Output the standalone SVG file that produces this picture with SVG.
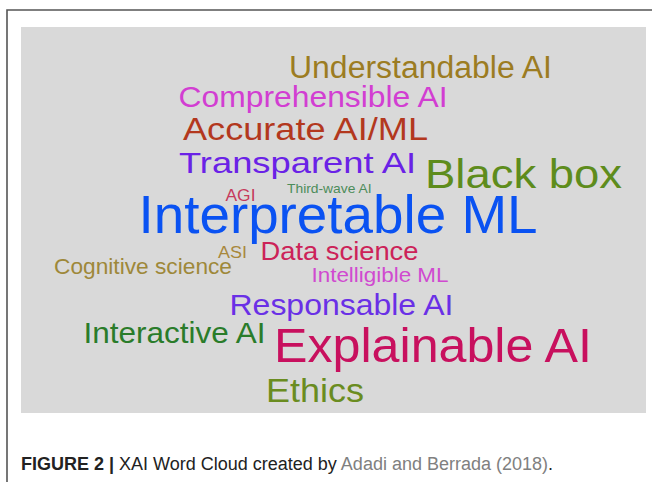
<svg xmlns="http://www.w3.org/2000/svg" width="652" height="482" viewBox="0 0 652 482">
<style>
.w{font-family:"Liberation Sans",Arial,sans-serif;}
.cap{font-family:"Liberation Sans",Arial,sans-serif;font-size:18px;fill:#222;}
.frame{stroke:#555;stroke-width:1.6;fill:none;}
</style>
<rect x="0" y="0" width="652" height="482" fill="#fff"/>
<path class="frame" d="M7,482 V10 H652"/>
<rect id="cloud-bg" x="21" y="27" width="625" height="386" fill="#d9d9d9"/>
<g id="words" class="w" lengthAdjust="spacingAndGlyphs">
<g id="w-understandable"><text x="289" y="77.7" font-size="31" fill="#9c7c22" textLength="263" lengthAdjust="spacingAndGlyphs">Understandable AI</text></g>
<g id="w-comprehensible"><text x="178.5" y="107" font-size="29" fill="#d23ed2" textLength="269" lengthAdjust="spacingAndGlyphs">Comprehensible AI</text></g>
<g id="w-accurate"><text x="183" y="140" font-size="31" fill="#b3381e" textLength="245" lengthAdjust="spacingAndGlyphs">Accurate AI/ML</text></g>
<g id="w-transparent"><text x="179" y="172.7" font-size="30" fill="#6a22e6" textLength="237" lengthAdjust="spacingAndGlyphs">Transparent AI</text></g>
<g id="w-blackbox"><text x="425" y="187.7" font-size="41" fill="#5e8c1c" textLength="197" lengthAdjust="spacingAndGlyphs">Black box</text></g>
<g id="w-agi"><text x="225.5" y="200.7" font-size="17" fill="#c63a5c" textLength="30" lengthAdjust="spacingAndGlyphs">AGI</text></g>
<g id="w-thirdwave"><text x="287" y="192.7" font-size="13" fill="#4c8c5a" textLength="84.5" lengthAdjust="spacingAndGlyphs">Third-wave AI</text></g>
<g id="w-interpretable"><text x="138.5" y="233.3" font-size="53.5" fill="#0a52f2" textLength="399" lengthAdjust="spacingAndGlyphs">Interpretable ML</text></g>
<g id="w-asi"><text x="218" y="258.3" font-size="16" fill="#a8883c" textLength="29" lengthAdjust="spacingAndGlyphs">ASI</text></g>
<g id="w-datascience"><text x="260.5" y="260" font-size="25.5" fill="#cc2258" textLength="158" lengthAdjust="spacingAndGlyphs">Data science</text></g>
<g id="w-cognitive"><text x="54" y="274.3" font-size="22.5" fill="#9e883a" textLength="178" lengthAdjust="spacingAndGlyphs">Cognitive science</text></g>
<g id="w-intelligible"><text x="311.5" y="281.7" font-size="21" fill="#d04ad0" textLength="137" lengthAdjust="spacingAndGlyphs">Intelligible ML</text></g>
<g id="w-responsable"><text x="229.5" y="314.5" font-size="30" fill="#6a30e6" textLength="224" lengthAdjust="spacingAndGlyphs">Responsable AI</text></g>
<g id="w-interactive"><text x="83.5" y="343.3" font-size="30" fill="#2a7c2a" textLength="182" lengthAdjust="spacingAndGlyphs">Interactive AI</text></g>
<g id="w-explainable"><text x="274" y="361.7" font-size="47.5" fill="#c8105e" textLength="318" lengthAdjust="spacingAndGlyphs">Explainable AI</text></g>
<g id="w-ethics"><text x="266" y="402.3" font-size="33.5" fill="#6a8c20" textLength="98" lengthAdjust="spacingAndGlyphs">Ethics</text></g>
</g>
<g id="caption">
<text class="cap" x="21" y="470"><tspan font-weight="bold">FIGURE 2 |</tspan> XAI Word Cloud created by <tspan fill="#808080">Adadi and Berrada (2018)</tspan>.</text>
</g>
</svg>
